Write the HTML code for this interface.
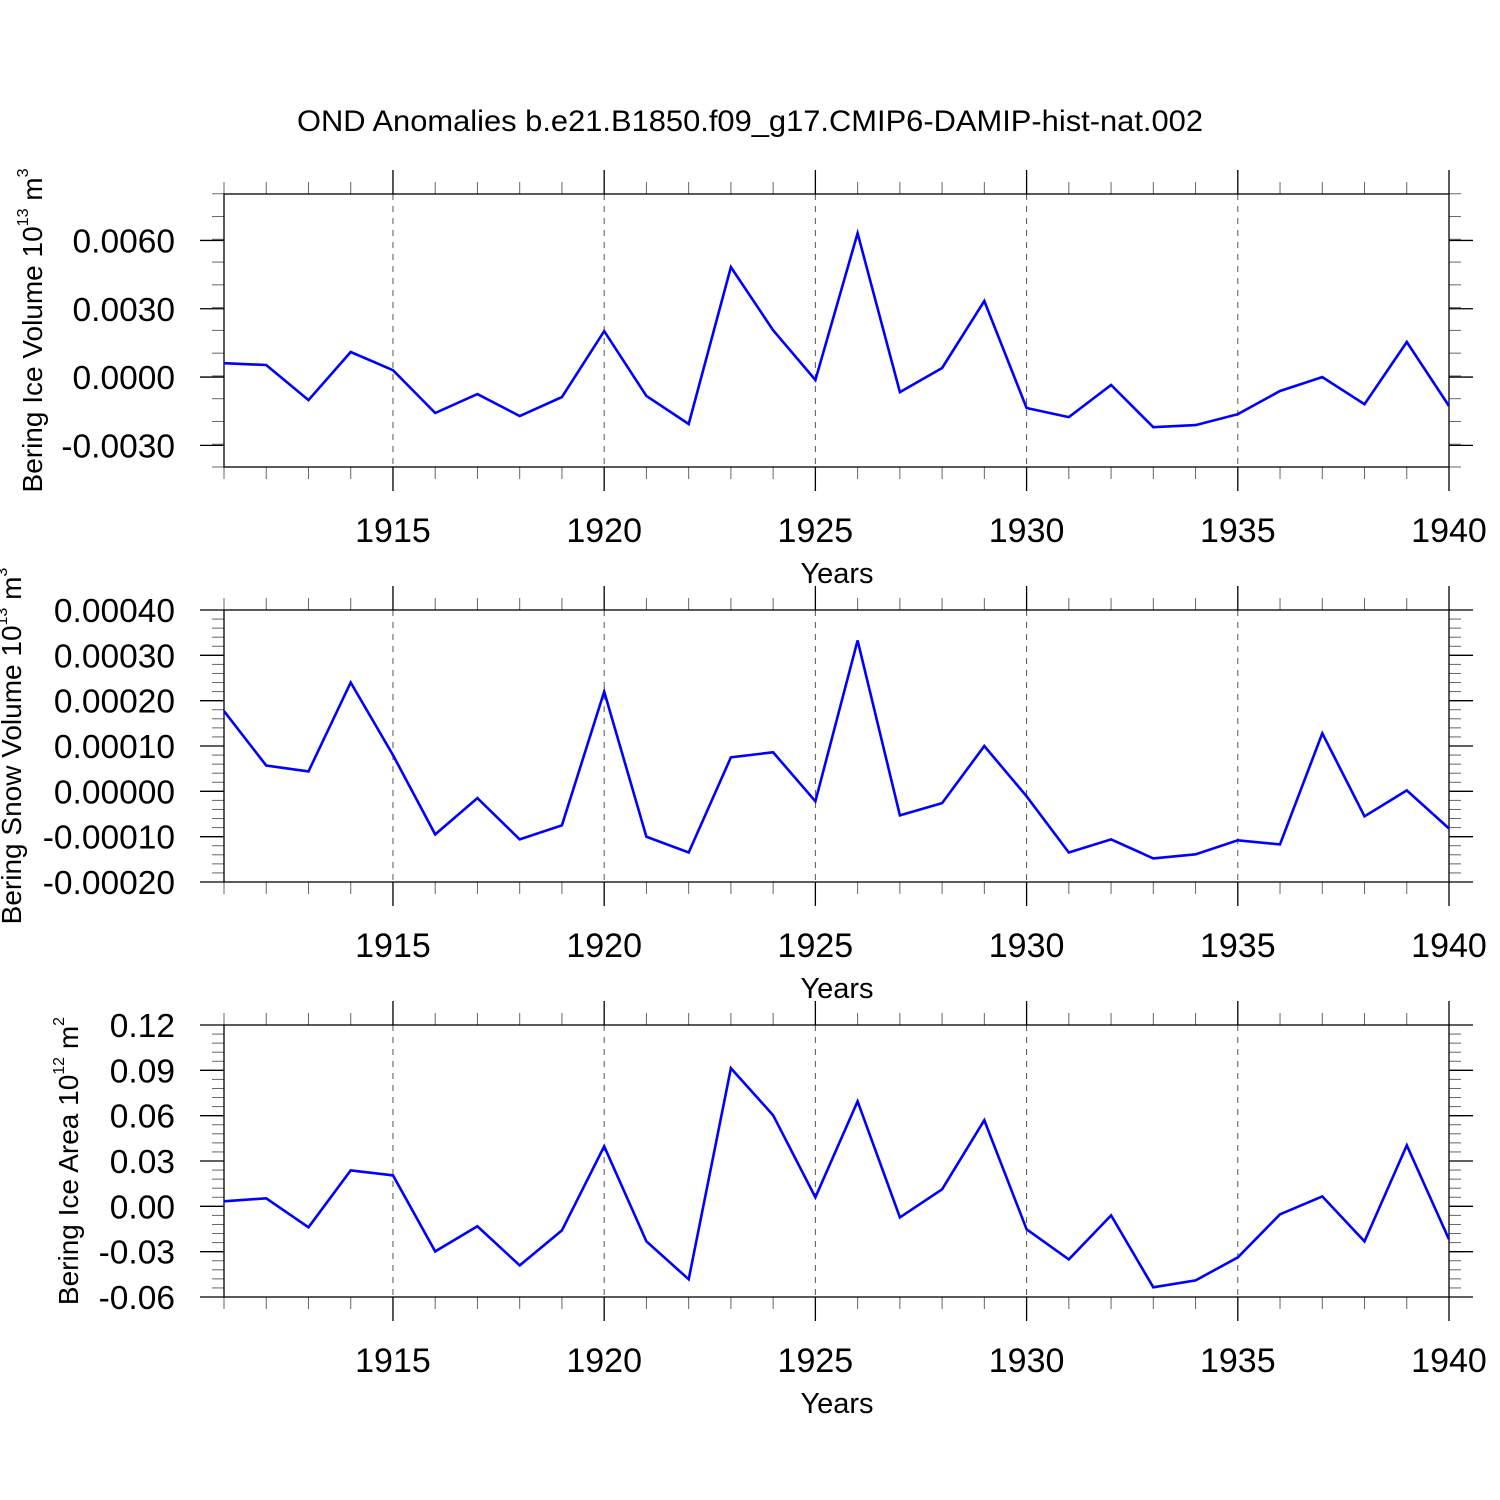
<!DOCTYPE html>
<html><head><meta charset="utf-8"><style>
html,body{margin:0;padding:0;background:#fff;}
svg{display:block;font-family:"Liberation Sans",Arial,sans-serif;}
</style></head><body>
<svg id="chart" width="1500" height="1500" viewBox="0 0 1500 1500" xmlns="http://www.w3.org/2000/svg">
<text x="750" y="131" font-size="30" text-anchor="middle" textLength="906" lengthAdjust="spacingAndGlyphs">OND Anomalies b.e21.B1850.f09_g17.CMIP6-DAMIP-hist-nat.002</text>
</svg>
<script>
const years = [1911,1912,1913,1914,1915,1916,1917,1918,1919,1920,1921,1922,1923,1924,1925,1926,1927,1928,1929,1930,1931,1932,1933,1934,1935,1936,1937,1938,1939,1940];
const iceVolume = [0.00061,0.00053,-0.00101,0.0011,0.0003,-0.00158,-0.00075,-0.00171,-0.00088,0.00202,-0.00083,-0.00206,0.00483,0.00206,-0.00013,0.00632,-0.00066,0.0004,0.00334,-0.00136,-0.00176,-0.00035,-0.0022,-0.00211,-0.00163,-0.00061,0.0,-0.00119,0.00154,-0.00127];
const snowVolume = [0.000177,0.000057,0.000044,0.00024,0.00008,-0.000095,-0.000015,-0.000106,-0.000075,0.00022,-0.0001,-0.000135,0.000075,0.000086,-0.000022,0.000333,-0.000053,-0.000026,0.0001,-0.000011,-0.000135,-0.000106,-0.000148,-0.000139,-0.000108,-0.000117,0.000128,-0.000055,0.000002,-0.000082];
const iceArea = [0.0033,0.0053,-0.0139,0.0238,0.0205,-0.0298,-0.0132,-0.0391,-0.0159,0.0397,-0.0232,-0.0483,0.0914,0.0603,0.006,0.0695,-0.0073,0.0113,0.057,-0.0152,-0.0351,-0.006,-0.0536,-0.049,-0.0338,-0.0053,0.0066,-0.0232,0.0404,-0.0219];
const xTicks = [1915,1920,1925,1930,1935,1940];
const ticks1 = [0.006,0.003,0,-0.003];
const tickLabels1 = ["0.0060","0.0030","0.0000","-0.0030"];
const ticks2 = [0.0004,0.0003,0.0002,0.0001,0,-0.0001,-0.0002];
const tickLabels2 = ["0.00040","0.00030","0.00020","0.00010","0.00000","-0.00010","-0.00020"];
const ticks3 = [0.12,0.09,0.06,0.03,0,-0.03,-0.06];
const tickLabels3 = ["0.12","0.09","0.06","0.03","0.00","-0.03","-0.06"];

const NS="http://www.w3.org/2000/svg";
const svg=document.getElementById('chart');
const X0=224,X1=1449;
function xs(y){return X0+(y-1911)/(1940-1911)*(X1-X0);}
function mk(tag,attrs,parent){const e=document.createElementNS(NS,tag);for(const k in attrs)e.setAttribute(k,attrs[k]);(parent||svg).appendChild(e);return e;}

function panel(cfg){
  const g=mk('g',{});
  
  
  const ys=v=>cfg.top+(cfg.ymax-v)/(cfg.ymax-cfg.ymin)*(cfg.bot-cfg.top);
  xTicks.forEach(t=>{ if(t<1940){const l=mk('line',{x1:xs(t),x2:xs(t),y1:cfg.top,y2:cfg.bot,stroke:'#555','stroke-width':1,'stroke-dasharray':'6,6'},g);
    }});
  for(let y=1911;y<=1940;y++){
    const major=xTicks.includes(y);
    const L=major?24:12;
    mk('line',{x1:xs(y),x2:xs(y),y1:cfg.top-L,y2:cfg.top,stroke:major?'#000':'#666','stroke-width':major?1.3:1},g);
    mk('line',{x1:xs(y),x2:xs(y),y1:cfg.bot,y2:cfg.bot+L,stroke:major?'#000':'#666','stroke-width':major?1.3:1},g);
  }
  for(let v=cfg.ymin;v<=cfg.ymax+cfg.minor*0.01;v+=cfg.minor){
    const yy=ys(v);
    mk('line',{x1:X0-12,x2:X0,y1:yy,y2:yy,stroke:'#666','stroke-width':1},g);
    mk('line',{x1:X1,x2:X1+12,y1:yy,y2:yy,stroke:'#666','stroke-width':1},g);
  }
  cfg.ticks.forEach((t,i)=>{
    const yy=ys(t);
    mk('line',{x1:X0-24,x2:X0,y1:yy,y2:yy,stroke:'#000','stroke-width':1.3},g);
    mk('line',{x1:X1,x2:X1+24,y1:yy,y2:yy,stroke:'#000','stroke-width':1.3},g);
    const tx=mk('text',{x:175,y:yy+12,'font-size':33.5,'text-anchor':'end'},g);
    tx.textContent=cfg.labels[i];
    
    
  });
  xTicks.forEach(t=>{
    const tx=mk('text',{x:xs(t),y:cfg.bot+75,'font-size':34,'text-anchor':'middle'},g);
    tx.textContent=t;
    
    
  });
  const xt=mk('text',{x:837,y:cfg.bot+116,'font-size':29,'text-anchor':'middle'},g);
  xt.textContent='Years';
  
  
  const yt=mk('text',{x:0,y:0,'font-size':28,'text-anchor':'middle',transform:`translate(${cfg.tx},${(cfg.top+cfg.bot)/2}) rotate(-90)`},g);
  
  
  yt.innerHTML=cfg.title+' 10<tspan font-size="16" dy="-14">'+cfg.exp+'</tspan><tspan dy="14"> m</tspan><tspan font-size="16" dy="-14">'+cfg.pow+'</tspan>';
  const fr=mk('rect',{x:X0,y:cfg.top,width:X1-X0,height:cfg.bot-cfg.top,fill:'none',stroke:'#000','stroke-width':1.3},g);
  
  
  const pts=years.map((y,i)=>xs(y).toFixed(1)+','+ys(cfg.data[i]).toFixed(1)).join(' ');
  const pl=mk('polyline',{points:pts,fill:'none',stroke:'#0000ff','stroke-width':2.6,'stroke-linejoin':'miter'},g);
  
  
}
panel({name:'ice-volume-panel',top:194,bot:467,ymax:0.00804,ymin:-0.00395,minor:0.001,ticks:ticks1,labels:tickLabels1,data:iceVolume,title:'Bering Ice Volume',exp:'13',pow:'3',tx:42});
panel({name:'snow-volume-panel',top:610,bot:882,ymax:0.0004,ymin:-0.0002,minor:0.00002,ticks:ticks2,labels:tickLabels2,data:snowVolume,title:'Bering Snow Volume',exp:'13',pow:'3',tx:21});
panel({name:'ice-area-panel',top:1025,bot:1297,ymax:0.12,ymin:-0.06,minor:0.006,ticks:ticks3,labels:tickLabels3,data:iceArea,title:'Bering Ice Area',exp:'12',pow:'2',tx:78});
</script>
</body></html>
